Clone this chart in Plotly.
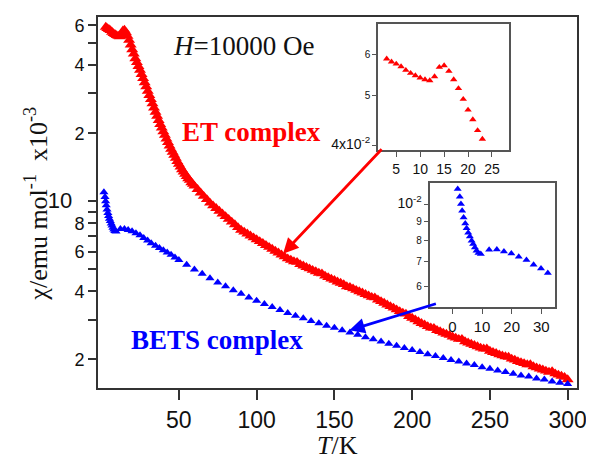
import plotly.graph_objects as go

# ---------------- data ----------------
et_T = [3, 4, 5, 6, 7, 8, 9, 10, 11, 12, 13, 14, 15, 16, 17, 18, 19, 20, 21, 22, 23,
        24, 25, 26, 27, 28, 29, 30, 31, 32, 33, 34, 35, 36, 37, 38, 39, 40, 41, 42,
        43, 44, 45, 46, 47, 48, 49, 50, 51, 52, 53, 54, 55, 56, 57, 58, 59, 60,
        62, 64, 66, 68, 70, 72, 74, 76, 78, 80, 82, 84, 86, 88, 90, 92, 94, 96, 98,
        100, 102, 104, 106, 108, 110, 112, 114, 116, 118, 120, 122, 124, 126, 128,
        130, 132, 134, 136, 138, 140, 142, 144, 146, 148, 150, 152, 154, 156, 158,
        160, 162, 164, 166, 168, 170, 172, 174, 176, 178, 180, 182, 184, 186, 188,
        190, 192, 194, 196, 198, 200, 202, 204, 206, 208, 210, 212, 214, 216, 218,
        220, 222, 224, 226, 228, 230, 232, 234, 236, 238, 240, 242, 244, 246, 248,
        250, 252, 254, 256, 258, 260, 262, 264, 266, 268, 270, 272, 274, 276, 278,
        280, 282, 284, 286, 288, 290, 292, 294, 296, 298, 300]
et_chi = [0.05886, 0.05807, 0.05755, 0.05687, 0.05594, 0.05519, 0.05462, 0.05406,
          0.05366, 0.05342, 0.05438, 0.05670, 0.05712, 0.05570, 0.05366, 0.05155,
          0.04913, 0.04683, 0.04486, 0.04273, 0.04111,
          0.0395, 0.0380, 0.0364, 0.0349, 0.0335, 0.0321, 0.0307, 0.0294, 0.0282,
          0.0270, 0.0259, 0.0248, 0.0238, 0.0228, 0.0219, 0.0211, 0.0203, 0.0196,
          0.0189, 0.0182, 0.0176, 0.0170, 0.0165, 0.0160, 0.0155, 0.0150, 0.0146,
          0.0142, 0.0138, 0.0135, 0.0132, 0.0129, 0.0126, 0.0124, 0.0121, 0.0119,
          0.0117,
          0.01130, 0.01091, 0.01054, 0.01019, 0.00984, 0.00957, 0.00931, 0.00906,
          0.00881, 0.00857, 0.00834, 0.00811, 0.00789, 0.00767, 0.00746, 0.00732,
          0.00718, 0.00704, 0.00691, 0.00678, 0.00665, 0.00652, 0.00639, 0.00627,
          0.00615, 0.00603, 0.00592, 0.00580, 0.00569, 0.00558, 0.00550, 0.00542,
          0.00538, 0.00526, 0.00519, 0.00511, 0.00504, 0.00496, 0.00489, 0.00482,
          0.00479, 0.00468, 0.00461, 0.00454, 0.00448, 0.00441, 0.00435, 0.00429,
          0.00420, 0.00417, 0.00411, 0.00405, 0.00399, 0.00394, 0.00388, 0.00383,
          0.00377, 0.00375, 0.00367, 0.00361, 0.00355, 0.00349, 0.00343, 0.00338,
          0.00332, 0.00326, 0.00321, 0.00318, 0.00310, 0.00305, 0.00300, 0.00294,
          0.00289, 0.00285, 0.00280, 0.00276, 0.00275, 0.00269, 0.00266, 0.00262,
          0.00259, 0.00256, 0.00252, 0.00249, 0.00246, 0.00246, 0.00240, 0.00237,
          0.00234, 0.00231, 0.00228, 0.00225, 0.00223, 0.00223, 0.00218, 0.00215,
          0.00213, 0.00210, 0.00208, 0.00206, 0.00205, 0.00201, 0.00199, 0.00196,
          0.00194, 0.00192, 0.00190, 0.00190, 0.00186, 0.00184, 0.00182, 0.00180,
          0.00178, 0.00176, 0.00177, 0.00173, 0.00171, 0.00169, 0.00167, 0.00163]

bets_T = [1.8, 2.5, 2.9, 3.3, 3.8, 4.35, 4.8, 5.35, 5.9, 6.5, 7.0, 7.6, 8.15, 8.8,
          9.6, 12.4, 15.0, 17.4, 19.9, 22.4, 25.0, 27.4, 29.9, 32.2, 35, 37.5, 40,
          42.5, 45, 47.5, 50, 55, 60, 65, 70, 75, 80, 85, 90, 95, 100, 105, 110, 115,
          120, 125, 130, 135, 140, 145, 150, 155, 160, 165, 170, 175, 180, 185, 190,
          195, 200, 205, 210, 215, 220, 225, 230, 235, 240, 245, 250, 255, 260, 265,
          270, 275, 280, 285, 290, 295, 300]
bets_chi = [0.01097, 0.01046, 0.01000, 0.00960, 0.00921, 0.00887, 0.00862, 0.00838,
            0.00818, 0.00797, 0.00781, 0.00765, 0.00750, 0.00739, 0.00735, 0.00754,
            0.00755, 0.00746, 0.00737, 0.00722, 0.00708, 0.00688, 0.00672, 0.00653,
            0.00636, 0.00622, 0.00608, 0.00594, 0.00580, 0.00565, 0.00550, 0.00524,
            0.00500, 0.00478, 0.00457, 0.00438, 0.00421, 0.00405, 0.00390, 0.00376,
            0.00364, 0.00352, 0.00341, 0.00331, 0.00321, 0.00312, 0.00304, 0.00296,
            0.00289, 0.00282, 0.00276, 0.00269, 0.00263, 0.00257, 0.00251, 0.00246,
            0.00240, 0.00235, 0.00230, 0.00225, 0.00220, 0.00216, 0.00211, 0.00207,
            0.00203, 0.00199, 0.00196, 0.00192, 0.00189, 0.00185, 0.00182, 0.00179,
            0.00176, 0.00173, 0.00170, 0.00168, 0.00165, 0.00163, 0.00160, 0.00158,
            0.00156]

et_in_T = [3, 4, 5, 6, 7, 8, 9, 10, 11, 12, 13, 14, 15, 16, 17, 18, 19, 20, 21, 22, 23]
et_in_chi = [0.05886, 0.05807, 0.05755, 0.05687, 0.05594, 0.05519, 0.05462, 0.05406,
             0.05366, 0.05342, 0.05438, 0.05670, 0.05712, 0.05570, 0.05366, 0.05155,
             0.04913, 0.04683, 0.04486, 0.04273, 0.04111]

bets_in_T = [1.8, 2.5, 2.9, 3.3, 3.8, 4.35, 4.8, 5.35, 5.9, 6.5, 7.0, 7.6, 8.15, 8.8,
             9.6, 12.4, 15.0, 17.4, 19.9, 22.4, 25.0, 27.4, 29.9, 32.2]
bets_in_chi = [0.01097, 0.01046, 0.01000, 0.00960, 0.00921, 0.00887, 0.00862, 0.00838,
               0.00818, 0.00797, 0.00781, 0.00765, 0.00750, 0.00739, 0.00735, 0.00754,
               0.00755, 0.00746, 0.00737, 0.00722, 0.00708, 0.00688, 0.00672, 0.00653]

main_x_ticks = [50, 100, 150, 200, 250, 300]
main_y_ticks = [0.002, 0.003, 0.004, 0.005, 0.006, 0.007, 0.008, 0.009,
                0.01, 0.02, 0.03, 0.04, 0.05, 0.06]
main_y_labels = ['2', '', '4', '', '6', '', '8', '', '10', '2', '', '4', '', '6']
in1_x_ticks = [5, 10, 15, 20, 25]
in1_y_ticks = [0.04, 0.05, 0.06]
in1_y_labels = ['4x10<sup>-2</sup>', '5', '6']
in2_x_ticks = [0, 10, 20, 30]
in2_y_ticks = [0.006, 0.007, 0.008, 0.009, 0.01]
in2_y_labels = ['6', '7', '8', '9', '10<sup>-2</sup>']

# ---------------- layout geometry ----------------
# target positions are given in window pixels; the page body adds an 8 px offset
OFF = 8
WIN_W, WIN_H = 594, 460
W, H = WIN_W - OFF, WIN_H - OFF
L, R, T, B = 98, 582, 15, 388          # main plot box in window pixels
pw, ph = R - L, B - T

def px_x(p):
    return (p - L) / pw

def px_y(p):
    return (B - p) / ph

RED = '#ff0000'
BLUE = '#0000ff'
AX = '#333333'
SANS = 'Liberation Sans, Arial, sans-serif'
SERIF = 'Liberation Serif, Times New Roman, serif'

fig = go.Figure()
fig.add_trace(go.Scatter(x=et_T, y=et_chi, mode='markers', xaxis='x', yaxis='y',
                         marker=dict(symbol='triangle-up', size=10.5, color=RED, line=dict(width=0))))
fig.add_trace(go.Scatter(x=bets_T, y=bets_chi, mode='markers', xaxis='x', yaxis='y',
                         marker=dict(symbol='triangle-up', size=8, color=BLUE, line=dict(width=0))))
fig.add_trace(go.Scatter(x=et_in_T, y=et_in_chi, mode='markers', xaxis='x2', yaxis='y2',
                         marker=dict(symbol='triangle-up', size=6.5, color=RED, line=dict(width=0))))
fig.add_trace(go.Scatter(x=bets_in_T, y=bets_in_chi, mode='markers', xaxis='x3', yaxis='y3',
                         marker=dict(symbol='triangle-up', size=7, color=BLUE, line=dict(width=0))))

NB = '\u00a0'
main_y_text = [('<span style="font-size:22px">%s%s%s</span>' % (t, NB, NB)) if t == '10' else t
               for t in main_y_labels]
in1_y_text = [('<span style="font-size:14px">%s</span>' % t) if 'x' in t else t for t in in1_y_labels]
in2_y_text = [('<span style="font-size:14px">%s</span>' % t) if 'sup' in t else t for t in in2_y_labels]

common = dict(showgrid=False, zeroline=False, showline=True, mirror=True, ticks='outside')

in1_box = (381, 513, 22, 149)
in2_box = (433, 560, 182, 307)

fig.update_layout(
    width=W, height=H, autosize=False,
    margin=dict(l=L - OFF, r=WIN_W - R, t=T - OFF, b=WIN_H - B, pad=0),
    paper_bgcolor='white', plot_bgcolor='white', showlegend=False,
    xaxis=dict(common, range=[-2, 306], tickvals=main_x_ticks, linecolor=AX, linewidth=2,
               tickcolor=AX, tickwidth=1.5, ticklen=10,
               tickfont=dict(family=SANS, size=23, color='#111')),
    yaxis=dict(common, type='log', range=[-2.825, -1.1855], tickvals=main_y_ticks,
               ticktext=main_y_text, linecolor=AX, linewidth=2, tickcolor=AX, tickwidth=1.5,
               ticklen=8, tickfont=dict(family=SANS, size=18, color='#111')),
    xaxis2=dict(common, domain=[px_x(in1_box[0]), px_x(in1_box[1])], anchor='y2',
                range=[1.2, 28.5], tickvals=in1_x_ticks, linecolor='#555', linewidth=1.5,
                tickcolor='#555', ticklen=5, tickfont=dict(family=SANS, size=14, color='#111')),
    yaxis2=dict(common, domain=[px_y(in1_box[3]), px_y(in1_box[2])], anchor='x2', type='log',
                range=[-1.4078, -1.1624], tickvals=in1_y_ticks, ticktext=in1_y_text,
                linecolor='#555', linewidth=1.5, tickcolor='#555', ticklen=4,
                tickfont=dict(family=SANS, size=10, color='#111')),
    xaxis3=dict(common, domain=[px_x(in2_box[0]), px_x(in2_box[1])], anchor='y3',
                range=[-7.7, 34.7], tickvals=in2_x_ticks, linecolor='#555', linewidth=1.5,
                tickcolor='#555', ticklen=5, tickfont=dict(family=SANS, size=15, color='#111')),
    yaxis3=dict(common, domain=[px_y(in2_box[3]), px_y(in2_box[2])], anchor='x3', type='log',
                range=[-2.2772, -1.9437], tickvals=in2_y_ticks, ticktext=in2_y_text,
                linecolor='#555', linewidth=1.5, tickcolor='#555', ticklen=4,
                tickfont=dict(family=SANS, size=10, color='#111')),
)

ann = [
    dict(text='χ/emu mol<sup>-1</sup>  x10<sup>-3</sup>', x=px_x(36), y=px_y(203),
         textangle=-90, font=dict(family=SERIF, size=26, color='#111')),
    dict(text='<i>T</i>/K', x=px_x(340), y=px_y(446), font=dict(family=SERIF, size=26, color='#111')),
    dict(text='<i>H</i>=10000 Oe', x=px_x(245), y=px_y(44), font=dict(family=SERIF, size=27, color='#111')),
    dict(text='<b>ET complex</b>', x=px_x(253), y=px_y(131), font=dict(family=SERIF, size=27, color=RED)),
    dict(text='<b>BETS complex</b>', x=px_x(218), y=px_y(340), font=dict(family=SERIF, size=27, color=BLUE)),
]
for a in ann:
    a.update(xref='paper', yref='paper', showarrow=False, xanchor='center', yanchor='middle')
    fig.add_annotation(**a)

# arrows: tip position (window pixels) and tail offset
for tip, tail, col in [((285, 253), (385, 147), RED), ((352, 330), (440, 303), BLUE)]:
    fig.add_annotation(text='', x=px_x(tip[0]), y=px_y(tip[1]), xref='paper', yref='paper',
                       ax=tail[0] - tip[0], ay=tail[1] - tip[1], axref='pixel', ayref='pixel',
                       showarrow=True, arrowhead=2, arrowsize=1.1, arrowwidth=2.8,
                       arrowcolor=col, standoff=0, startstandoff=0)

fig.write_html('out.html')
